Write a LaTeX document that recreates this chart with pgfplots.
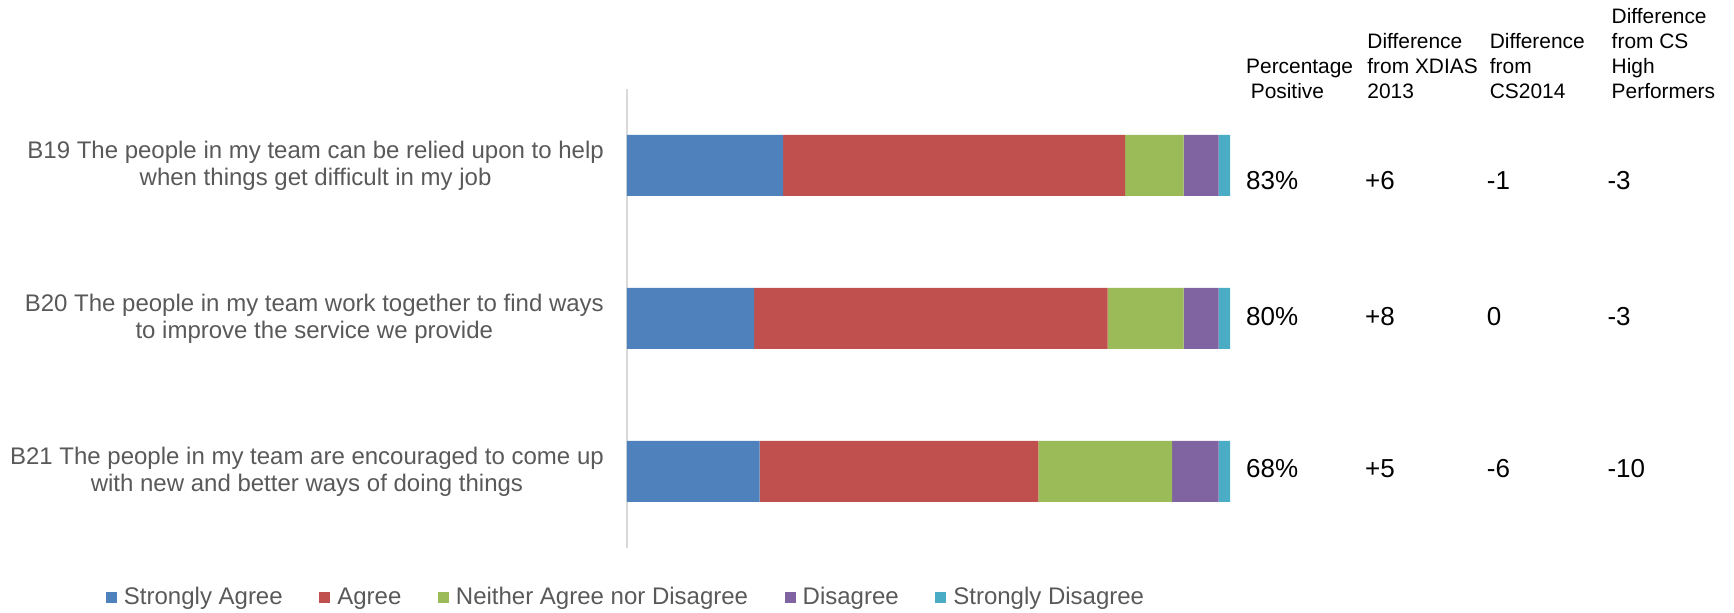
\documentclass[border=0pt]{standalone}
\usepackage{pgfplots}
\pgfplotsset{compat=1.18}
\usepackage{fontspec}
\setmainfont{Liberation Sans}
\definecolor{cSA}{HTML}{4F81BD}
\definecolor{cA}{HTML}{C0504D}
\definecolor{cN}{HTML}{9BBB59}
\definecolor{cD}{HTML}{8064A2}
\definecolor{cSD}{HTML}{4BACC6}
\definecolor{txtgray}{HTML}{595959}
\definecolor{axgray}{HTML}{D9D9D9}
\tikzset{
  hdr/.style={anchor=south west, inner sep=0pt, align=left, font=\fontsize{10.45}{12.6}\selectfont},
  val/.style={anchor=base west, inner sep=0pt, font=\fontsize{13}{15.6}\selectfont},
}
\begin{document}
\begin{tikzpicture}
\path[use as bounding box] (0,0) rectangle (867pt,306.5pt);
\begin{axis}[
  at={(313.45pt,32.5pt)}, anchor=south west,
  scale only axis, width=301.6pt, height=229.5pt,
  xmin=0, xmax=100, ymin=0.5, ymax=3.5,
  y dir=reverse,
  xbar stacked, bar width=30.5pt,
  hide x axis,
  axis y line*=left,
  y axis line style={draw=axgray, line width=1pt},
  ytick={1,2,3},
  yticklabels={{B19 The people in my team can be relied upon to help\\when things get difficult in my job},
               {B20 The people in my team work together to find ways\\to improve the service we provide},
               {B21 The people in my team are encouraged to come up\\with new and better ways of doing things}},
  major tick length=0pt,
  yticklabel style={font=\fontsize{12}{13.5}\selectfont, text=txtgray, align=center, inner xsep=0pt, xshift=-11.35pt},
  clip=false,
  legend columns=-1,
  legend image code/.code={\fill[#1] (0pt,-2.9pt) rectangle (5.6pt,2.9pt);},
  legend style={at={(-0.8646,-0.1078)}, anchor=west, draw=none, fill=none,
    inner sep=0pt, font=\fontsize{12}{14}\selectfont, text=txtgray,
    /tikz/every odd column/.append style={column sep=1.5pt},
    /tikz/every even column/.append style={column sep=16.2pt}},
]
\addplot[fill=cSA, draw=none] coordinates {(25.9,1) (21.1,2) (22.0,3)};
\addlegendentry{Strongly Agree}
\addplot[fill=cA, draw=none] coordinates {(56.7,1) (58.6,2) (46.2,3)};
\addlegendentry{Agree}
\addplot[fill=cN, draw=none] coordinates {(9.7,1) (12.6,2) (22.2,3)};
\addlegendentry{Neither Agree nor Disagree}
\addplot[fill=cD, draw=none] coordinates {(5.8,1) (5.8,2) (7.7,3)};
\addlegendentry{Disagree}
\addplot[fill=cSD, draw=none] coordinates {(1.9,1) (1.9,2) (1.9,3)};
\addlegendentry{Strongly Disagree}

\node[hdr] at (axis cs:102.6,0.568) {Percentage\\\phantom{i}Positive};
\node[hdr] at (axis cs:122.7,0.568) {Difference\\from XDIAS\\2013};
\node[hdr] at (axis cs:143.0,0.568) {Difference\\from\\CS2014};
\node[hdr] at (axis cs:163.2,0.568) {Difference\\from CS\\High\\Performers};

\node[val] at (axis cs:102.6,1.160) {83\%};
\node[val] at (axis cs:122.33,1.160) {+6};
\node[val] at (axis cs:142.5,1.160) {-1};
\node[val] at (axis cs:162.5,1.160) {-3};
\node[val] at (axis cs:102.6,2.049) {80\%};
\node[val] at (axis cs:122.33,2.049) {+8};
\node[val] at (axis cs:142.5,2.049) {0};
\node[val] at (axis cs:162.5,2.049) {-3};
\node[val] at (axis cs:102.6,3.040) {68\%};
\node[val] at (axis cs:122.33,3.040) {+5};
\node[val] at (axis cs:142.5,3.040) {-6};
\node[val] at (axis cs:162.5,3.040) {-10};
\end{axis}
\end{tikzpicture}
\end{document}
